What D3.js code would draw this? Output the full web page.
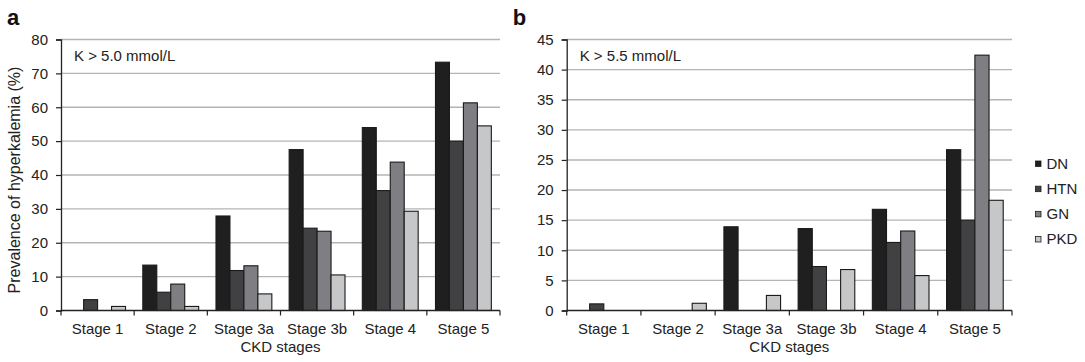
<!DOCTYPE html>
<html>
<head>
<meta charset="utf-8">
<script src="https://cdn.jsdelivr.net/npm/d3@7"></script>
<style>
  body { margin: 0; background: #fff; }
  svg { display: block; font-family: "Liberation Sans", Arial, sans-serif; }
</style>
</head>
<body>
<svg width="1085" height="362"></svg>
<script>
const stages = ['Stage 1', 'Stage 2', 'Stage 3a', 'Stage 3b', 'Stage 4', 'Stage 5']
const groups = ['DN', 'HTN', 'GN', 'PKD']

// panel a, K > 5.0 mmol/L
const k50DN = [0, 13.4, 27.9, 47.5, 54.0, 73.3]
const k50HTN = [3.2, 5.4, 11.8, 24.3, 35.4, 50.0]
const k50GN = [0, 7.8, 13.2, 23.4, 43.8, 61.3]
const k50PKD = [1.2, 1.2, 4.9, 10.5, 29.3, 54.5]
const k50Ticks = [0, 10, 20, 30, 40, 50, 60, 70, 80]

// panel b, K > 5.5 mmol/L
const k55DN = [0, 0, 13.9, 13.6, 16.8, 26.7]
const k55HTN = [1.1, 0, 0, 7.3, 11.3, 15.0]
const k55GN = [0, 0, 0, 0, 13.2, 42.4]
const k55PKD = [0, 1.2, 2.5, 6.8, 5.8, 18.3]
const k55Ticks = [0, 5, 10, 15, 20, 25, 30, 35, 40, 45]

const colors = d3.scaleOrdinal()
  .domain(groups)
  .range(['#1f1f20', '#414143', '#7f7f83', '#c6c7c9'])

const svg = d3.select('svg')
const fontSize = '15px'

const drawPanel = ({ letter, note, series, ticks, left, right, showYLabel }) => {
  const top = 39.5
  const bottom = 310.5
  const g = svg.append('g')

  const x0 = d3.scaleBand().domain(stages).range([left, right])
  const x1 = d3.scaleBand().domain(groups)
    .range([0, x0.bandwidth()])
    .paddingOuter(0.62)
  const y = d3.scaleLinear()
    .domain([0, d3.max(ticks)])
    .range([bottom, top])

  // gridlines
  g.append('g')
    .selectAll('line')
    .data(ticks.filter((t) => t > 0))
    .join('line')
    .attr('x1', left)
    .attr('x2', right)
    .attr('y1', (d) => y(d))
    .attr('y2', (d) => y(d))
    .attr('stroke', '#b4b4b4')
    .attr('stroke-width', 1.4)

  // bars
  const rows = stages.map((s, i) => ({ stage: s, values: groups.map((k) => ({ key: k, value: series[k][i] })) }))
  g.append('g')
    .selectAll('g')
    .data(rows)
    .join('g')
    .attr('transform', (d) => `translate(${x0(d.stage)},0)`)
    .selectAll('rect')
    .data((d) => d.values.filter((v) => v.value > 0))
    .join('rect')
    .attr('x', (d) => x1(d.key))
    .attr('y', (d) => y(d.value))
    .attr('width', x1.bandwidth())
    .attr('height', (d) => y(0) - y(d.value))
    .attr('fill', (d) => colors(d.key))
    .attr('stroke', '#1a1a1a')
    .attr('stroke-width', 1.1)

  // y axis
  const yAxis = g.append('g')
    .attr('transform', `translate(${left},0)`)
    .call(d3.axisLeft(y).tickValues(ticks).tickSize(5).tickPadding(8))
  yAxis.select('.domain').attr('stroke', '#222').attr('stroke-width', 1.3)
  yAxis.selectAll('.tick line').attr('stroke', '#222').attr('stroke-width', 1.2)
  yAxis.selectAll('text').attr('font-size', fontSize).attr('fill', '#222')
    .attr('font-family', '"Liberation Sans", Arial, sans-serif')

  // x axis: ticks on band boundaries
  const bounds = stages.map((s) => x0(s)).concat([right])
  g.append('line')
    .attr('x1', left).attr('x2', right)
    .attr('y1', bottom).attr('y2', bottom)
    .attr('stroke', '#222').attr('stroke-width', 1.3)
  g.append('g')
    .selectAll('line')
    .data(bounds)
    .join('line')
    .attr('x1', (d) => d).attr('x2', (d) => d)
    .attr('y1', bottom).attr('y2', bottom + 5)
    .attr('stroke', '#222').attr('stroke-width', 1.2)
  g.append('g')
    .selectAll('text')
    .data(stages)
    .join('text')
    .attr('x', (d) => x0(d) + x0.bandwidth() / 2)
    .attr('y', 333.5)
    .attr('text-anchor', 'middle')
    .attr('font-size', fontSize)
    .attr('fill', '#222')
    .text((d) => d)

  g.append('text')
    .attr('x', (left + right) / 2)
    .attr('y', 352)
    .attr('text-anchor', 'middle')
    .attr('font-size', fontSize)
    .attr('fill', '#222')
    .text('CKD stages')

  if (showYLabel) {
    g.append('text')
      .attr('transform', `translate(19.5,${(top + bottom) / 2 + 5}) rotate(-90)`)
      .attr('text-anchor', 'middle')
      .attr('font-size', '16px')
      .attr('fill', '#222')
      .text('Prevalence of hyperkalemia (%)')
  }

  // threshold note inside plot
  g.append('text')
    .attr('x', left + 13)
    .attr('y', 61)
    .attr('font-size', fontSize)
    .attr('fill', '#222')
    .text(note)

  // panel letter
  g.append('text')
    .attr('x', left - 54)
    .attr('y', 25)
    .attr('font-size', '22px')
    .attr('font-weight', 'bold')
    .attr('fill', '#111')
    .text(letter)
}

drawPanel({
  letter: 'a',
  note: 'K > 5.0 mmol/L',
  series: { DN: k50DN, HTN: k50HTN, GN: k50GN, PKD: k50PKD },
  ticks: k50Ticks,
  left: 61,
  right: 500,
  showYLabel: true,
})

drawPanel({
  letter: 'b',
  note: 'K > 5.5 mmol/L',
  series: { DN: k55DN, HTN: k55HTN, GN: k55GN, PKD: k55PKD },
  ticks: k55Ticks,
  left: 566.7,
  right: 1012,
  showYLabel: false,
})

// legend
const legend = svg.append('g').attr('transform', 'translate(1035,0)')
const rowY = d3.scalePoint().domain(groups).range([163.5, 239])
legend.selectAll('rect')
  .data(groups)
  .join('rect')
  .attr('x', 0.5)
  .attr('y', (d) => rowY(d) - 2.5)
  .attr('width', 5.5)
  .attr('height', 5.5)
  .attr('fill', (d) => colors(d))
  .attr('stroke', '#1d1d1d')
  .attr('stroke-width', 0.8)
legend.selectAll('text')
  .data(groups)
  .join('text')
  .attr('x', 11.5)
  .attr('y', (d) => rowY(d))
  .attr('dy', '0.36em')
  .attr('font-size', fontSize)
  .attr('fill', '#222')
  .text((d) => d)
</script>
</body>
</html>
